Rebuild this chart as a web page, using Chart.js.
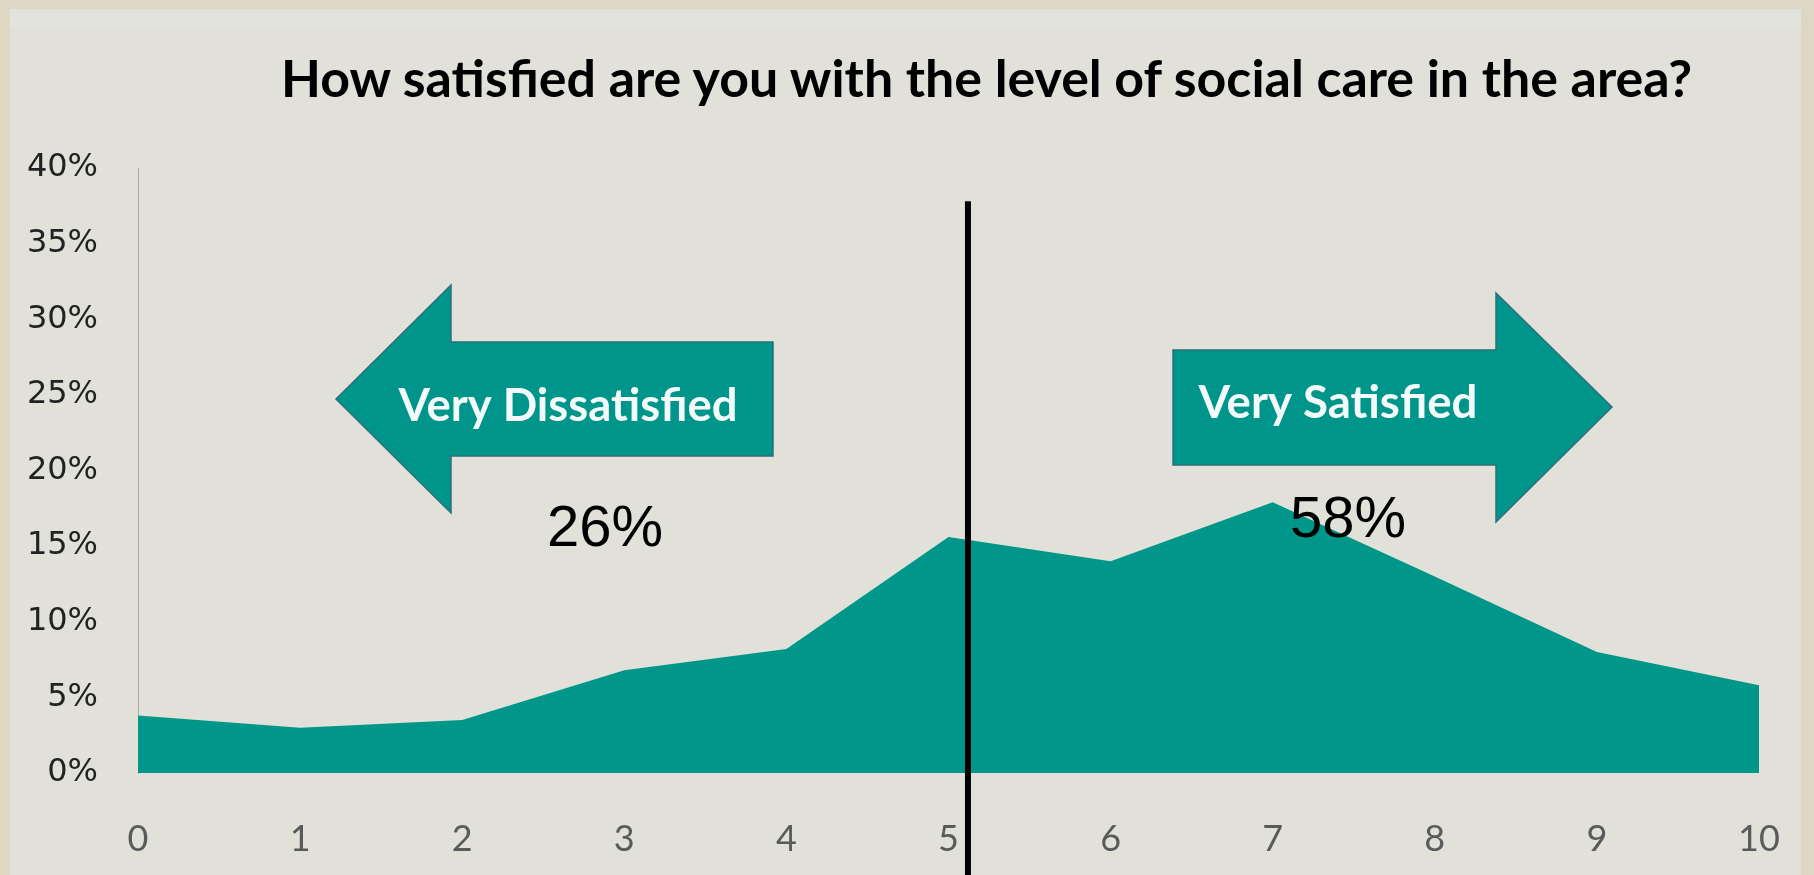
<!DOCTYPE html>
<html>
<head>
<meta charset="utf-8">
<script src="https://cdn.jsdelivr.net/npm/chart.js@4/dist/chart.umd.min.js"></script>
<style>
  html, body { margin: 0; padding: 0; width: 1814px; height: 875px; overflow: hidden; background: #ddd7c3; }
  #panel { position: absolute; left: 10px; top: 9px; width: 1791px; height: 866px; background: #e1e1da; }
  #strip { position: absolute; left: 10px; top: 9px; width: 1791px; height: 18px; background: #e3e3dd; }
  #title { position: absolute; top: 0; left: 0; white-space: nowrap; font-family: Lato, "Open Sans", sans-serif; font-weight: bold; color: #000; line-height: 1; }
  canvas { position: absolute; left: 0; top: 0; }
</style>
</head>
<body>
<div id="panel"></div>
<div id="strip"></div>
<div id="title">How satisfied are you with the level of social care in the area?</div>
<canvas id="c" width="1814" height="875"></canvas>
<script>
// ---- data ----
const categories = ['0', '1', '2', '3', '4', '5', '6', '7', '8', '9', '10'];
const satisfaction = [3.8, 3.0, 3.5, 6.8, 8.2, 15.6, 14.0, 17.9, 13.0, 8.0, 5.8];
const yTickValues = [0, 5, 10, 15, 20, 25, 30, 35, 40];
const groupLabels = ['Very Dissatisfied', 'Very Satisfied'];
const groupShares = ['26%', '58%'];
const dividerValue = 5.12;
const dividerTop = 37.8;

const TEAL = '#00978a';

// ---- title (HTML text, fitted to the reference width) ----
(function () {
  const t = document.getElementById('title');
  const m = document.createElement('canvas').getContext('2d');
  m.font = 'bold 100px Lato';
  const w = m.measureText(t.textContent).width;
  const size = 100 * 1416 / w;
  t.style.fontSize = size + 'px';
  t.style.left = (989 - 1416 / 2) + 'px';
  t.style.top = (81 - size * 0.55) + 'px';
})();

function fitFont(ctx, text, weight, family, targetW) {
  ctx.font = weight + ' 100px ' + family;
  const w = ctx.measureText(text).width;
  return 100 * targetW / w;
}

const overlayPlugin = {
  id: 'overlay',
  afterDatasetsDraw(chart) {
    const ctx = chart.ctx;
    const xs = chart.scales.x, ys = chart.scales.y;
    ctx.save();
    // divider line
    const dx = xs.getPixelForValue(dividerValue);
    ctx.strokeStyle = '#000';
    ctx.lineWidth = 6;
    ctx.beginPath();
    ctx.moveTo(dx, ys.getPixelForValue(dividerTop));
    ctx.lineTo(dx, chart.height);
    ctx.stroke();

    // arrows
    const arrows = [
      { tip: 336, headBase: 451, tail: 773, cy: 399, shaftTop: 342, shaftBot: 456, headTop: 285, headBot: 513 },
      { tip: 1612, headBase: 1496, tail: 1173, cy: 407, shaftTop: 350, shaftBot: 465, headTop: 293, headBot: 522 }
    ];
    arrows.forEach(a => {
      ctx.beginPath();
      ctx.moveTo(a.tip, a.cy);
      ctx.lineTo(a.headBase, a.headTop);
      ctx.lineTo(a.headBase, a.shaftTop);
      ctx.lineTo(a.tail, a.shaftTop);
      ctx.lineTo(a.tail, a.shaftBot);
      ctx.lineTo(a.headBase, a.shaftBot);
      ctx.lineTo(a.headBase, a.headBot);
      ctx.closePath();
      ctx.fillStyle = '#00958a';
      ctx.fill();
      ctx.strokeStyle = '#2e6f7c';
      ctx.lineWidth = 1.5;
      ctx.stroke();
    });

    // arrow labels
    const labelPos = [{ cx: 568, cy: 406, w: 339 }, { cx: 1338, cy: 403, w: 279 }];
    ctx.fillStyle = '#f2fbfa';
    ctx.textAlign = 'center';
    ctx.textBaseline = 'middle';
    groupLabels.forEach((txt, i) => {
      const p = labelPos[i];
      const s = fitFont(ctx, txt, 'bold', 'Lato', p.w);
      ctx.font = 'bold ' + s + 'px Lato';
      ctx.fillText(txt, p.cx, p.cy);
    });

    // shares
    const sharePos = [{ cx: 605, cy: 530 }, { cx: 1348, cy: 521 }];
    ctx.fillStyle = '#000';
    ctx.font = '58px "Liberation Sans", Arial, sans-serif';
    groupShares.forEach((txt, i) => {
      const p = sharePos[i];
      ctx.fillText(txt, p.cx, p.cy);
    });
    ctx.restore();
  }
};

new Chart(document.getElementById('c'), {
  type: 'line',
  data: {
    labels: categories,
    datasets: [{
      data: satisfaction,
      fill: 'origin',
      backgroundColor: TEAL,
      borderColor: TEAL,
      borderWidth: 0,
      pointRadius: 0,
      tension: 0
    }]
  },
  options: {
    responsive: false,
    devicePixelRatio: 1,
    animation: false,
    events: [],
    layout: { padding: { left: 0, right: 55, top: 168, bottom: 0 } },
    plugins: { legend: { display: false }, tooltip: { enabled: false }, title: { display: false } },
    scales: {
      x: {
        type: 'category',
        offset: false,
        grid: { display: false, drawTicks: false },
        border: { display: false },
        ticks: {
          padding: 45,
          color: '#5a5a5a',
          font: { family: 'Lato', size: 36 },
          maxRotation: 0,
          autoSkip: false
        },
        afterFit(scale) { scale.height = 102; scale.paddingRight = 0; scale.paddingLeft = 0; }
      },
      y: {
        min: 0,
        max: 40,
        afterBuildTicks(scale) { scale.ticks = yTickValues.map(v => ({ value: v })); },
        grid: { display: false, drawTicks: false },
        border: { display: true, color: '#a8a8a8', width: 1 },
        ticks: {
          padding: 40,
          color: '#222',
          font: { family: '"DejaVu Sans"', size: 32 },
          callback: v => v + '%'
        },
        afterFit(scale) { scale.width = 138; }
      }
    }
  },
  plugins: [overlayPlugin]
});
</script>
</body>
</html>
